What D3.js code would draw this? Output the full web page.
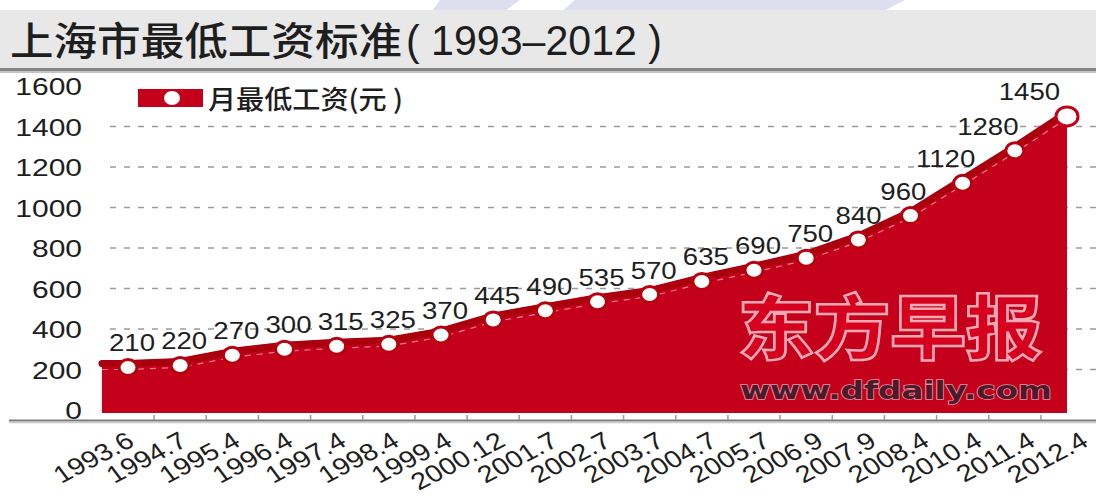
<!DOCTYPE html>
<html>
<head>
<meta charset="utf-8">
<script src="https://cdn.jsdelivr.net/npm/d3@7"></script>
<style>
  body { margin: 0; background: #fff; }
  svg { display: block; }
</style>
</head>
<body>
<svg id="chart"></svg>
<script>
// values
const periods = ['1993.6', '1994.7', '1995.4', '1996.4', '1997.4', '1998.4', '1999.4', '2000.12', '2001.7',
  '2002.7', '2003.7', '2004.7', '2005.7', '2006.9', '2007.9', '2008.4', '2010.4', '2011.4', '2012.4'];
const wages = [210, 220, 270, 300, 315, 325, 370, 445, 490, 535, 570, 635, 690, 750, 840, 960, 1120, 1280, 1450];
const yTicks = [0, 200, 400, 600, 800, 1000, 1200, 1400, 1600];
const gridTicks = [200, 400, 600, 800, 1000, 1200, 1400];
const titleMain = '上海市最低工资标准';
const titleYears = '( 1993–2012 )';
const legendText = '月最低工资(元 )';

const W = 1096, H = 498;
const red = '#c5001b', darkRed = '#aa000e';
const numFont = '"Liberation Sans", Arial, sans-serif';
const cjkFont = '"Noto Sans CJK SC", sans-serif';

const svg = d3.select('#chart').attr('width', W).attr('height', H);

//scales
const x = d3.scalePoint().domain(periods).range([128, 1067]);
// the slanted labels sit a little wider apart than the points
const xLabel = x.copy().range([136, 1090]);
const y = d3.scaleLinear().domain([0, 1600]).range([410, 86]);

const data = periods.map((p, i) => ({ p, v: wages[i], px: x(p) }));
// the filled band starts half a step before the first point
const areaData = [{ p: null, v: wages[0], px: x(periods[0]) - x.step() / 2 }].concat(data);

//faint leftover shape at the very top
svg.append('path')
  .attr('d', 'M440,0 L520,0 L505,11 L432,11 Z M575,0 L905,0 L880,13 L560,13 Z')
  .attr('fill', '#d6d6ee')
  .attr('opacity', 0.8);

//title bar
svg.append('rect').attr('x', 0).attr('y', 10).attr('width', W).attr('height', 58).attr('fill', '#e8e8e8');
svg.append('rect').attr('x', 0).attr('y', 68).attr('width', W).attr('height', 3).attr('fill', '#858585');
svg.append('rect').attr('x', 0).attr('y', 71).attr('width', W).attr('height', 2).attr('fill', '#c4c4c4');

svg.append('text')
  .attr('x', 10)
  .attr('y', 55)
  .attr('textLength', 392)
  .attr('lengthAdjust', 'spacingAndGlyphs')
  .style('font-family', cjkFont)
  .style('font-weight', 500)
  .style('font-size', '39px')
  .attr('fill', '#1e1e1e')
  .text(titleMain);

svg.append('text')
  .attr('x', 406)
  .attr('y', 55)
  .attr('textLength', 256)
  .attr('lengthAdjust', 'spacingAndGlyphs')
  .style('font-family', numFont)
  .style('font-size', '43px')
  .attr('fill', '#1e1e1e')
  .text(titleYears);

//gridlines
svg.append('g').selectAll('line')
  .data(gridTicks)
  .enter().append('line')
    .attr('x1', 110)
    .attr('x2', W)
    .attr('y1', d => y(d))
    .attr('y2', d => y(d))
    .attr('stroke', '#9a9a9a')
    .attr('stroke-width', 1.6)
    .attr('stroke-dasharray', '6,8');

//y axis labels
const yAxis = svg.append('g')
  .attr('transform', 'translate(82,0)')
  .call(d3.axisLeft(y).tickValues(yTicks).tickSize(0).tickFormat(d3.format('d')));
yAxis.select('.domain').remove();
yAxis.selectAll('text')
  .attr('x', 0)
  .attr('dy', '0.36em')
  .attr('transform', 'scale(1.25,1)')
  .style('font-family', numFont)
  .style('font-size', '24px')
  .attr('fill', '#1e1e1e');

//area
const area = d3.area()
  .x(d => d.px)
  .y0(y(0) + 3)
  .y1(d => y(d.v) - 7);

svg.append('path')
  .datum(areaData)
  .attr('d', area)
  .attr('fill', red);

const topLine = d3.line().x(d => d.px).y(d => y(d.v) - 4);
svg.append('path')
  .datum(areaData)
  .attr('d', topLine)
  .attr('fill', 'none')
  .attr('stroke', darkRed)
  .attr('stroke-width', 7)
  .attr('stroke-linejoin', 'round')
  .attr('stroke-linecap', 'round');

const midLine = d3.line().x(d => d.px).y(d => y(d.v) + 2);
svg.append('path')
  .datum(areaData)
  .attr('d', midLine)
  .attr('fill', 'none')
  .attr('stroke', '#e4808e')
  .attr('stroke-width', 1.2)
  .attr('stroke-dasharray', '6,6');

//watermark
svg.append('text')
  .attr('x', 738)
  .attr('y', 354)
  .attr('textLength', 304)
  .attr('lengthAdjust', 'spacingAndGlyphs')
  .style('font-family', cjkFont)
  .style('font-weight', 900)
  .style('font-size', '70px')
  .attr('fill', '#d6001f')
  .attr('stroke', '#f2a9b3')
  .attr('stroke-width', 2.5)
  .text('东方早报');

svg.append('text')
  .attr('x', 740)
  .attr('y', 399)
  .attr('textLength', 312)
  .attr('lengthAdjust', 'spacingAndGlyphs')
  .style('font-family', '"DejaVu Sans", sans-serif')
  .style('font-weight', 'bold')
  .style('font-size', '25px')
  .attr('fill', '#4b1b2c')
  .attr('stroke', '#e88f9e')
  .attr('stroke-width', 1.5)
  .attr('paint-order', 'stroke')
  .text('www.dfdaily.com');

//points
svg.append('g').selectAll('ellipse')
  .data(data)
  .enter().append('ellipse')
    .attr('cx', d => d.px)
    .attr('cy', d => y(d.v))
    .attr('rx', (d, i) => i === data.length - 1 ? 11 : 9)
    .attr('ry', (d, i) => i === data.length - 1 ? 9.5 : 8)
    .attr('fill', '#fff')
    .attr('stroke', (d, i) => i === data.length - 1 ? red : '#b8000f')
    .attr('stroke-width', 3);

//value labels, pushed left where the line climbs steeply
svg.append('g').selectAll('text')
  .data(data)
  .enter().append('text')
    .attr('transform', d => `translate(${d.px + 4 - Math.max(0, d.v - 780) * 0.062},${y(d.v) - 16}) scale(1.15,1)`)
    .attr('text-anchor', 'middle')
    .style('font-family', numFont)
    .style('font-size', '24px')
    .attr('fill', '#1e1e1e')
    .text(d => d.v);

//legend
svg.append('rect').attr('x', 138).attr('y', 89).attr('width', 65).attr('height', 18).attr('fill', red);
svg.append('ellipse').attr('cx', 172).attr('cy', 98).attr('rx', 8).attr('ry', 7).attr('fill', '#fff');
svg.append('text')
  .attr('x', 208)
  .attr('y', 109)
  .attr('textLength', 195)
  .attr('lengthAdjust', 'spacingAndGlyphs')
  .style('font-family', cjkFont)
  .style('font-weight', 500)
  .style('font-size', '26px')
  .attr('fill', '#1e1e1e')
  .text(legendText);

//x axis
svg.append('line').attr('x1', 9).attr('x2', W).attr('y1', 420.5).attr('y2', 420.5)
  .attr('stroke', '#7a7a7a').attr('stroke-width', 2);
svg.append('line').attr('x1', 9).attr('x2', W).attr('y1', 422.5).attr('y2', 422.5)
  .attr('stroke', '#c8c8c8').attr('stroke-width', 1.5);

svg.append('g').selectAll('line')
  .data(periods.slice(1))
  .enter().append('line')
    .attr('x1', d => x(d) - x.step() / 2)
    .attr('x2', d => x(d) - x.step() / 2)
    .attr('y1', 415)
    .attr('y2', 420)
    .attr('stroke', '#9a9a9a')
    .attr('stroke-width', 1.5);

svg.append('g').selectAll('text')
  .data(periods)
  .enter().append('text')
    .attr('transform', d => `translate(${xLabel(d)},445) scale(1.2,1) rotate(-32)`)
    .attr('text-anchor', 'end')
    .style('font-family', numFont)
    .style('font-size', '24px')
    .attr('fill', '#1e1e1e')
    .text(d => d);
</script>
</body>
</html>
